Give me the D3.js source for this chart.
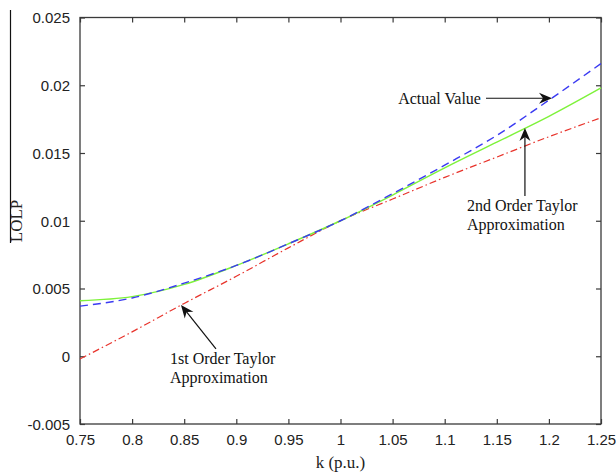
<!DOCTYPE html>
<html>
<head>
<meta charset="utf-8">
<script src="https://cdn.jsdelivr.net/npm/d3@7/dist/d3.min.js"></script>
<style>
html,body{margin:0;padding:0;background:#fff;}
svg{display:block;}
</style>
</head>
<body>
<svg id="chart" width="616" height="474"></svg>
<script>
// ---- data ----
const kValues = [0.75, 0.8, 0.85, 0.9, 0.95, 1.0, 1.05, 1.1, 1.15, 1.2, 1.25];
const actualValue = [0.0037, 0.0043, 0.0054, 0.0067, 0.0083, 0.0100, 0.0120, 0.0141, 0.0163, 0.0189, 0.0216];
const secondOrder = [0.0041, 0.0044, 0.0053, 0.0067, 0.0083, 0.0100, 0.0119, 0.0139, 0.0158, 0.0177, 0.0198];
const firstOrder = [-0.0002, 0.0018, 0.0039, 0.0059, 0.0080, 0.0100, 0.0116, 0.0132, 0.0147, 0.0162, 0.0176];
const xTicks = [0.75, 0.8, 0.85, 0.9, 0.95, 1, 1.05, 1.1, 1.15, 1.2, 1.25];
const xTickLabels = ["0.75","0.8","0.85","0.9","0.95","1","1.05","1.1","1.15","1.2","1.25"];
const yTicks = [-0.005, 0, 0.005, 0.01, 0.015, 0.02, 0.025];
const yTickLabels = ["-0.005","0","0.005","0.01","0.015","0.02","0.025"];
const annotationTexts = [["Actual Value"], ["2nd Order Taylor", "Approximation"], ["1st Order Taylor", "Approximation"]];
// annotation anchors in data units: text position, arrow tail, arrow head
const annotationText = [[1.1348, 0.01904], [1.1214, 0.01116], [0.8364, -0.00013]];
const annotationTail = [[1.1396, 0.01904], [1.177, 0.01183], [0.8805, 0.00054]];
const annotationHead = [[1.203, 0.01904], [1.177, 0.01684], [0.8469, 0.00379]];

// ---- layout ----
const svg = d3.select("#chart");
const mLeft = 80, mRight = 601, mTop = 17.5, mBottom = 424;
const x = d3.scaleLinear().domain([0.75, 1.25]).range([mLeft, mRight]);
const y = d3.scaleLinear().domain([-0.005, 0.025]).range([mBottom, mTop]);
const axisColor = "#3a3a3a";
const tickFont = "'Liberation Sans', Arial, sans-serif";
const serif = "'Liberation Serif', 'Times New Roman', serif";

// frame
svg.append("rect").attr("x", mLeft).attr("y", mTop).attr("width", mRight - mLeft).attr("height", mBottom - mTop)
  .attr("fill", "none").attr("stroke", axisColor).attr("stroke-width", 1.3);

// axes with inward ticks
const gx = svg.append("g").attr("transform", `translate(0,${mBottom})`)
  .call(d3.axisBottom(x).tickValues(xTicks).tickSizeInner(-5).tickSizeOuter(0).tickPadding(10)
    .tickFormat((d, i) => xTickLabels[i]));
const gxTop = svg.append("g").attr("transform", `translate(0,${mTop})`)
  .call(d3.axisTop(x).tickValues(xTicks).tickSizeInner(-5).tickSizeOuter(0).tickFormat(""));
const gy = svg.append("g").attr("transform", `translate(${mLeft},0)`)
  .call(d3.axisLeft(y).tickValues(yTicks).tickSizeInner(-5).tickSizeOuter(0).tickPadding(10)
    .tickFormat((d, i) => yTickLabels[i]));
const gyR = svg.append("g").attr("transform", `translate(${mRight},0)`)
  .call(d3.axisRight(y).tickValues(yTicks).tickSizeInner(-5).tickSizeOuter(0).tickFormat(""));
[gx, gxTop, gy, gyR].forEach(g => {
  g.select(".domain").remove();
  g.selectAll(".tick line").attr("stroke", axisColor).attr("stroke-width", 1.2);
  g.selectAll(".tick text").attr("fill", "#222").attr("font-family", tickFont).attr("font-size", 15);
});
gy.selectAll(".tick text").attr("dy", "0.35em");

// axis labels
svg.append("text").attr("x", (mLeft + mRight) / 2).attr("y", 468).attr("text-anchor", "middle")
  .attr("font-family", serif).attr("font-size", 17).attr("fill", "#222").text("k (p.u.)");
svg.append("text").attr("transform", "translate(22,221) rotate(-90)").attr("text-anchor", "middle")
  .attr("font-family", serif).attr("font-size", 17).attr("fill", "#222").text("LOLP");
// stray vertical rule at far left as in the source image
svg.append("line").attr("x1", 10.5).attr("x2", 10.5).attr("y1", 10).attr("y2", 243)
  .attr("stroke", "#111").attr("stroke-width", 1.2);

// series
const line = d3.line().x(d => x(d[0])).y(d => y(d[1])).curve(d3.curveMonotoneX);
const series = [
  {vals: firstOrder, color: "#e8332b", dash: "7,3,1.5,3", w: 1.2},
  {vals: secondOrder, color: "#7ef23a", dash: null, w: 1.4},
  {vals: actualValue, color: "#3a3af2", dash: "8,5", w: 1.4}
];
series.forEach(s => {
  svg.append("path").datum(kValues.map((k, i) => [k, s.vals[i]]))
    .attr("d", line).attr("fill", "none").attr("stroke", s.color)
    .attr("stroke-width", s.w).attr("stroke-dasharray", s.dash);
});

// annotations
function arrow(p0, p1) {
  const x0 = x(p0[0]), y0 = y(p0[1]), x1 = x(p1[0]), y1 = y(p1[1]);
  const ang = Math.atan2(y1 - y0, x1 - x0);
  const L = 13, W = 5.5, back = 9;
  svg.append("line").attr("x1", x0).attr("y1", y0)
    .attr("x2", x1 - Math.cos(ang) * back).attr("y2", y1 - Math.sin(ang) * back)
    .attr("stroke", "#111").attr("stroke-width", 1.2);
  const c = Math.cos(ang), s = Math.sin(ang);
  const pt = (a, b) => [x1 + a * c - b * s, y1 + a * s + b * c];
  const pts = [pt(0, 0), pt(-L, W), pt(-back, 0), pt(-L, -W)];
  svg.append("path").attr("d", "M" + pts.map(p => p.join(",")).join("L") + "Z").attr("fill", "#111");
}
annotationTexts.forEach((lines, i) => {
  const t = svg.append("text").attr("font-family", serif).attr("font-size", 16).attr("fill", "#111")
    .attr("text-anchor", i === 0 ? "end" : "start");
  lines.forEach((ln, j) => {
    t.append("tspan").attr("x", x(annotationText[i][0])).attr("y", y(annotationText[i][1]) + 19 * j)
      .attr("dy", "0.35em").text(ln);
  });
  arrow(annotationTail[i], annotationHead[i]);
});
</script>
</body>
</html>
